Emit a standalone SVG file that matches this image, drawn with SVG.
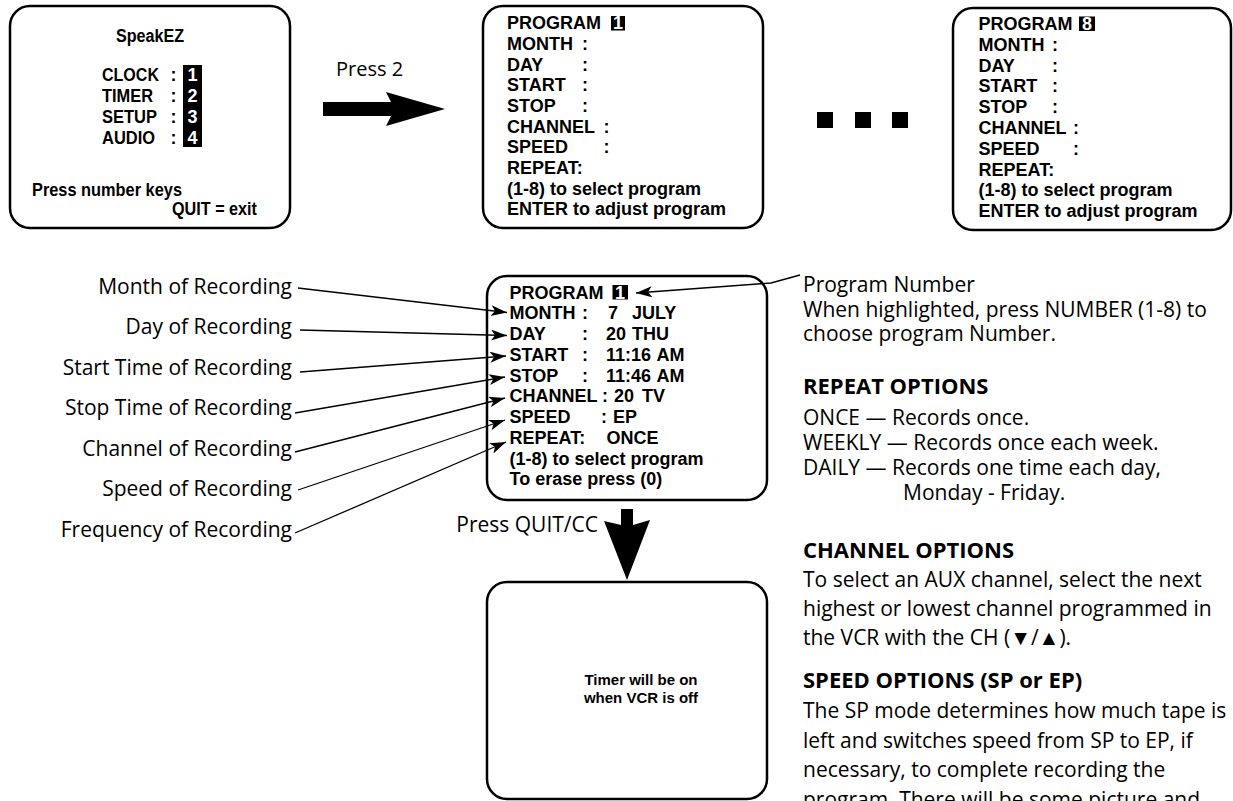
<svg xmlns="http://www.w3.org/2000/svg" width="1233" height="801" viewBox="0 0 1233 801">
<style>
.box{fill:#fff;stroke:#000;stroke-width:2.5}
.b{font-family:"Liberation Sans",Arial,sans-serif;font-weight:bold;fill:#000}
.s16{font-size:18px}
.s18{font-size:18px}
.w{fill:#fff;text-anchor:middle}
.t{font-family:"Open Sans","Noto Sans",sans-serif;font-size:21px;fill:#000}
.h{font-family:"Open Sans","Noto Sans",sans-serif;font-size:22px;font-weight:bold;fill:#000}
.lbl{text-anchor:end}
.conn path,.conn line{stroke:#000;stroke-width:1.3;fill:none;marker-end:url(#ah)}
.big{fill:#000}
</style>
<defs>
<marker id="ah" markerUnits="userSpaceOnUse" markerWidth="18" markerHeight="12" refX="16" refY="5.5" orient="auto">
<path d="M0,0 L16,5.5 L0,11 L4,5.5 z" fill="#000"/>
</marker>
</defs>
<rect width="1233" height="801" fill="#fff"/>

<g id="menu">
<rect class="box" x="10" y="6" width="280" height="222" rx="20"/>
<text class="b s16" x="116" y="42" textLength="68" lengthAdjust="spacingAndGlyphs">SpeakEZ</text>
<rect x="183" y="65" width="19" height="82" fill="#000"/>
<text class="b s16" x="102" y="81" textLength="57" lengthAdjust="spacingAndGlyphs">CLOCK</text>
<text class="b s16" x="102" y="102" textLength="51" lengthAdjust="spacingAndGlyphs">TIMER</text>
<text class="b s16" x="102" y="123" textLength="55" lengthAdjust="spacingAndGlyphs">SETUP</text>
<text class="b s16" x="102" y="143.5" textLength="53" lengthAdjust="spacingAndGlyphs">AUDIO</text>
<text class="b s16" x="170.5" y="81">:</text>
<text class="b s16" x="170.5" y="102">:</text>
<text class="b s16" x="170.5" y="123">:</text>
<text class="b s16" x="170.5" y="143.5">:</text>
<text class="b s16 w" x="192.5" y="81">1</text>
<text class="b s16 w" x="192.5" y="102">2</text>
<text class="b s16 w" x="192.5" y="123">3</text>
<text class="b s16 w" x="192.5" y="143.5">4</text>
<text class="b s16" x="32" y="196" textLength="150" lengthAdjust="spacingAndGlyphs">Press number keys</text>
<text class="b s16" x="172" y="215" textLength="85" lengthAdjust="spacingAndGlyphs">QUIT = exit</text>
</g>

<g id="press2">
<text class="t" x="336" y="76" style="font-size:20px">Press 2</text>
<polygon class="big" points="323,102 391,102 386,92 445,109 386,126 391,116 323,116"/>
</g>

<g id="program1">
<rect class="box" x="483" y="6" width="280" height="222" rx="20"/>
<rect x="611" y="16" width="14" height="14.5" fill="#000"/>
<text class="b s18" x="507" y="29.3">PROGRAM</text>
<text class="b s18 w" x="618" y="29.3">1</text>
<text class="b s18" x="507" y="50">MONTH<tspan x="582">:</tspan></text>
<text class="b s18" x="507" y="70.6">DAY<tspan x="582">:</tspan></text>
<text class="b s18" x="507" y="91.3">START<tspan x="582">:</tspan></text>
<text class="b s18" x="507" y="111.9">STOP<tspan x="582">:</tspan></text>
<text class="b s18" x="507" y="132.6">CHANNEL<tspan x="603.5">:</tspan></text>
<text class="b s18" x="507" y="153.2">SPEED<tspan x="603.5">:</tspan></text>
<text class="b s18" x="507" y="173.9">REPEAT:</text>
<text class="b s18" x="507" y="194.5">(1-8) to select program</text>
<text class="b s18" x="507" y="215.2">ENTER to adjust program</text>
</g>

<g id="ellipsis">
<rect x="817" y="112" width="16" height="16" fill="#000"/>
<rect x="855" y="112" width="16" height="16" fill="#000"/>
<rect x="892" y="112" width="16" height="16" fill="#000"/>
</g>

<g id="program8">
<rect class="box" x="953" y="8" width="278" height="222" rx="20"/>
<rect x="1079" y="16.5" width="16" height="14.5" fill="#000"/>
<text class="b s18" x="978.5" y="30">PROGRAM</text>
<text class="b s18 w" x="1087" y="30">8</text>
<text class="b s18" x="978.5" y="50.8">MONTH<tspan x="1052">:</tspan></text>
<text class="b s18" x="978.5" y="71.6">DAY<tspan x="1052">:</tspan></text>
<text class="b s18" x="978.5" y="92.4">START<tspan x="1052">:</tspan></text>
<text class="b s18" x="978.5" y="113.2">STOP<tspan x="1052">:</tspan></text>
<text class="b s18" x="978.5" y="134">CHANNEL<tspan x="1073">:</tspan></text>
<text class="b s18" x="978.5" y="154.8">SPEED<tspan x="1073">:</tspan></text>
<text class="b s18" x="978.5" y="175.6">REPEAT:</text>
<text class="b s18" x="978.5" y="196.4">(1-8) to select program</text>
<text class="b s18" x="978.5" y="217.2">ENTER to adjust program</text>
</g>

<g id="program-detail">
<rect class="box" x="487" y="276" width="280" height="224" rx="20"/>
<rect x="612.5" y="285" width="15.5" height="14.5" fill="#000"/>
<text class="b s18" x="509.5" y="298.5">PROGRAM</text>
<text class="b s18 w" x="620" y="298.5">1</text>
<text class="b s18" x="509.5" y="319.25">MONTH<tspan x="582">:</tspan><tspan x="608">7</tspan><tspan x="632">JULY</tspan></text>
<text class="b s18" x="509.5" y="340">DAY<tspan x="582">:</tspan><tspan x="606">20</tspan><tspan x="632">THU</tspan></text>
<text class="b s18" x="509.5" y="360.75">START<tspan x="582">:</tspan><tspan x="606">11:16</tspan><tspan x="656.5">AM</tspan></text>
<text class="b s18" x="509.5" y="381.5">STOP<tspan x="582">:</tspan><tspan x="606">11:46</tspan><tspan x="656.5">AM</tspan></text>
<text class="b s18" x="509.5" y="402.25">CHANNEL<tspan x="602">:</tspan><tspan x="614">20</tspan><tspan x="642">TV</tspan></text>
<text class="b s18" x="509.5" y="423">SPEED<tspan x="601">:</tspan><tspan x="613">EP</tspan></text>
<text class="b s18" x="509.5" y="443.75">REPEAT:<tspan x="606.5">ONCE</tspan></text>
<text class="b s18" x="509.5" y="464.5">(1-8) to select program</text>
<text class="b s18" x="509.5" y="485.25">To erase press (0)</text>
</g>

<g id="labels">
<text class="t lbl" x="292" y="293.5">Month of Recording</text>
<text class="t lbl" x="292" y="334">Day of Recording</text>
<text class="t lbl" x="292" y="374.5">Start Time of Recording</text>
<text class="t lbl" x="292" y="415">Stop Time of Recording</text>
<text class="t lbl" x="292" y="455.5">Channel of Recording</text>
<text class="t lbl" x="292" y="496">Speed of Recording</text>
<text class="t lbl" x="292" y="536.5">Frequency of Recording</text>
</g>

<g id="notes">
<text class="t" x="803" y="292">Program Number</text>
<text class="t" x="803" y="317">When highlighted, press NUMBER (1-8) to</text>
<text class="t" x="803" y="341">choose program Number.</text>
<text class="h" x="803" y="393.5">REPEAT OPTIONS</text>
<text class="t" x="803" y="425">ONCE — Records once.</text>
<text class="t" x="803" y="450">WEEKLY — Records once each week.</text>
<text class="t" x="803" y="475">DAILY — Records one time each day,</text>
<text class="t" x="903" y="500">Monday - Friday.</text>
<text class="h" x="803" y="557.5">CHANNEL OPTIONS</text>
<text class="t" x="803" y="587.3">To select an AUX channel, select the next</text>
<text class="t" x="803" y="616">highest or lowest channel programmed in</text>
<text class="t" x="803" y="645">the VCR with the CH (▼/▲).</text>
<text class="h" x="803" y="688.3">SPEED OPTIONS (SP or EP)</text>
<text class="t" x="803" y="718.3">The SP mode determines how much tape is</text>
<text class="t" x="803" y="748">left and switches speed from SP to EP, if</text>
<text class="t" x="803" y="777">necessary, to complete recording the</text>
<text class="t" x="803" y="807">program. There will be some picture and</text>
</g>

<g id="quit">
<text class="t lbl" x="598" y="531.5">Press QUIT/CC</text>
<polygon class="big" points="621,509 633,509 633,525 650,520 627,580 604,521 621,525"/>
</g>

<g id="timer-off">
<rect class="box" x="487" y="582" width="280" height="217" rx="20"/>
<text class="b" x="641" y="685" text-anchor="middle" style="font-size:15px">Timer will be on</text>
<text class="b" x="641" y="703" text-anchor="middle" style="font-size:15px">when VCR is off</text>
</g>

<g class="conn" id="connectors">
<line x1="298" y1="288" x2="507" y2="312.5"/>
<line x1="300" y1="330" x2="507" y2="335.5"/>
<line x1="300" y1="372" x2="506" y2="356"/>
<line x1="295" y1="413" x2="505" y2="377"/>
<line x1="295" y1="452" x2="505" y2="398"/>
<line x1="298" y1="490" x2="505" y2="420"/>
<line x1="295" y1="533" x2="506" y2="442"/>
<path d="M800,275 L771,283 L636,293"/>
</g>
</svg>
